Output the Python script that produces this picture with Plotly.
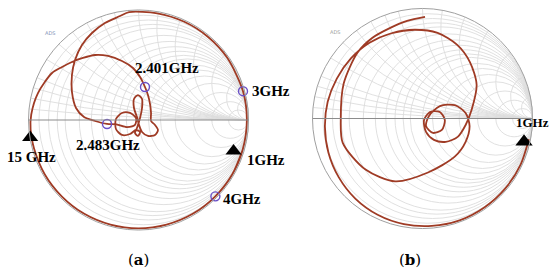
import numpy as np
import plotly.graph_objects as go

# ---------------- data: reflection coefficient (S11) ----------------
# Chart (a): S11 real / imaginary parts, traced from 1 GHz to 15 GHz
a_s11_re = [0.947, 0.853, 0.696, 0.493, 0.255, 0.0, -0.255, -0.493, -0.696, -0.853, -0.951, -0.981,
            -0.975, -0.914, -0.786, -0.695, -0.605, -0.505, -0.395, -0.277, -0.15, -0.05, 0.014, 0.059,
            0.086, 0.105, 0.114, 0.114, 0.15, 0.177, 0.15, 0.086, 0.032, 0.005,
            -0.014, -0.041, -0.041, -0.005, 0.032, 0.032, 0.014,
            -0.014, -0.032, -0.005, 0.014, -0.023,
            -0.077, -0.15, -0.205, -0.205, -0.15, -0.077, -0.023, -0.032, -0.105, -0.2, -0.286,
            -0.395, -0.495, -0.568, -0.605, -0.605, -0.577, -0.514, -0.423, -0.305, -0.168,
            -0.086, 0.171, 0.416, 0.633, 0.807, 0.950, 0.985, 0.947, 0.853, 0.699,
            0.493, 0.255, 0.0, -0.255, -0.493, -0.696, -0.853, -0.951, -0.980]
a_s11_im = [-0.271, -0.493, -0.696, -0.853, -0.951, -0.985, -0.951, -0.853, -0.696, -0.493, -0.255, -0.086,
            0.05, 0.245, 0.427, 0.482, 0.527, 0.564, 0.591, 0.582, 0.536, 0.473, 0.391, 0.30,
            0.227, 0.145, 0.064, -0.009, -0.045, -0.091, -0.136, -0.145, -0.109, -0.045,
            0.027, 0.109, 0.191, 0.227, 0.191, 0.109, 0.018,
            -0.073, -0.118, -0.145, -0.109, -0.091,
            -0.127, -0.136, -0.082, 0.009, 0.064, 0.064, 0.018, -0.045, -0.064, -0.04, -0.036,
            -0.009, 0.027, 0.109, 0.255, 0.409, 0.545, 0.682, 0.791, 0.882, 0.945,
            0.981, 0.970, 0.893, 0.755, 0.565, 0.262, 0.0, -0.271, -0.493, -0.694,
            -0.853, -0.951, -0.985, -0.951, -0.853, -0.696, -0.493, -0.255, -0.103]

# markers on chart (a)
a_circ_labels = ["2.401GHz", "2.483GHz", "3GHz", "4GHz"]
a_circ_re = [0.059, -0.286, 0.950, 0.699]
a_circ_im = [0.30, -0.036, 0.262, -0.694]
a_tri_labels = ["1GHz", "15 GHz"]
a_tri_re = [0.864, -0.985]
a_tri_im = [-0.282, -0.16]

# Chart (b): S11 real / imaginary parts, traced from 1 GHz upward
b_s11_re = [0.967, 0.893, 0.755, 0.565, 0.337, 0.085, -0.169, -0.408, -0.611, -0.762, -0.855, -0.887,
            -0.862, -0.779, -0.651, -0.482, -0.282, -0.071, 0.137, 0.313, 0.431, 0.492, 0.446,
            0.392, 0.32, 0.212, 0.104, 0.032, 0.014, 0.068, 0.158, 0.203, 0.176, 0.095, 0.032, 0.059,
            0.158, 0.293, 0.392, 0.428, 0.392, 0.293, 0.05, -0.248, -0.518, -0.725, -0.743, -0.716,
            -0.59, -0.455, -0.293, -0.14, 0.023]
b_s11_im = [-0.188, -0.416, -0.633, -0.807, -0.926, -0.976, -0.960, -0.875, -0.728, -0.533, -0.311, -0.078,
            0.152, 0.363, 0.546, 0.688, 0.775, 0.807, 0.778, 0.671, 0.513, 0.307, 0.077,
            -0.059, -0.167, -0.212, -0.194, -0.122, -0.014, 0.059, 0.059, -0.014, -0.104, -0.131, -0.068, 0.023,
            0.113, 0.122, 0.05, -0.068, -0.212, -0.347, -0.491, -0.572, -0.464, -0.221, 0.005, 0.32,
            0.6, 0.734, 0.824, 0.887, 0.923]
b_tri_labels = ["1GHz"]
b_tri_re = [0.923]
b_tri_im = [-0.212]

# Smith grid values (normalised resistance / reactance)
grid_r = [0.05, 0.1, 0.15, 0.2, 0.3, 0.4, 0.5, 0.6, 0.7, 0.8, 1, 1.2, 1.5, 2, 3, 5, 10]
grid_x = [0.05, 0.1, 0.15, 0.2, 0.3, 0.4, 0.5, 0.6, 0.7, 0.8, 1, 1.2, 1.5, 2, 3, 5, 10]


def to_z(re, im):
    g = np.array(re) + 1j * np.array(im)
    z = (1 + g) / (1 - g)
    return z.real, z.imag


CURVE = "#9f3b25"
MARK = "#6a50c8"

fig = go.Figure()

for sub, re, im in [("smith", a_s11_re, a_s11_im), ("smith2", b_s11_re, b_s11_im)]:
    zr, zi = to_z(re, im)
    fig.add_trace(go.Scattersmith(real=zr, imag=zi, subplot=sub, mode="lines",
                                  line=dict(color=CURVE, width=1.8, shape="spline", smoothing=0.8),
                                  showlegend=False, hoverinfo="skip"))

zr, zi = to_z(a_circ_re, a_circ_im)
fig.add_trace(go.Scattersmith(real=zr, imag=zi, subplot="smith", mode="markers",
                              text=a_circ_labels,
                              marker=dict(symbol="circle-open", size=9, color=MARK, line=dict(width=1.4)),
                              showlegend=False))
zr, zi = to_z(a_tri_re, a_tri_im)
fig.add_trace(go.Scattersmith(real=zr, imag=zi, subplot="smith", mode="markers", text=a_tri_labels,
                              marker=dict(symbol="triangle-up", size=14, color="black"),
                              showlegend=False))
zr, zi = to_z(b_tri_re, b_tri_im)
fig.add_trace(go.Scattersmith(real=zr, imag=zi, subplot="smith2", mode="markers", text=b_tri_labels,
                              marker=dict(symbol="triangle-up", size=15, color="black"),
                              showlegend=False))

axis_r = dict(tickvals=grid_r, showgrid=True, gridcolor="#dcdcdc", gridwidth=0.9,
              showline=True, linecolor="#8c8c8c", linewidth=1, showticklabels=False, ticks="")
axis_x = dict(tickvals=grid_x, showgrid=True, gridcolor="#dcdcdc", gridwidth=0.9,
              showline=True, linecolor="#a0a0a0", linewidth=1, showticklabels=False, ticks="")

W, H = 550, 274
fig.update_layout(
    width=W, height=H, margin=dict(l=0, r=0, t=0, b=0),
    paper_bgcolor="white", plot_bgcolor="white",
    smith=dict(domain=dict(x=[28.5 / W, 248.5 / W], y=[1 - 230 / H, 1 - 10 / H]),
               bgcolor="white", realaxis=axis_r, imaginaryaxis=axis_x),
    smith2=dict(domain=dict(x=[312.5 / W, 532.5 / W], y=[1 - 228.5 / H, 1 - 8.5 / H]),
                bgcolor="white", realaxis=axis_r, imaginaryaxis=axis_x),
)

lab = dict(family="Liberation Serif", size=15, color="black")


def ann(text, px, py, anchor="center", font=lab):
    fig.add_annotation(text=text, x=px / W, y=1 - py / H, xref="paper", yref="paper",
                       xanchor=anchor, yanchor="middle", showarrow=False, font=font)


ann("<b>2.401GHz</b>", 167, 68)
ann("<b>3GHz</b>", 250, 91, "left")
ann("<b>2.483GHz</b>", 107.5, 145)
ann("<b>15 GHz</b>", 31, 157)
ann("<b>1GHz</b>", 245, 160, "left")
ann("<b>4GHz</b>", 221, 199, "left")
ann("<b>1GHz</b>", 532, 122, "center", dict(family="Liberation Serif", size=13, color="black"))
ann("ADS", 50, 33, font=dict(family="DejaVu Sans", size=5, color="#8090b8"))
ann("ADS", 335, 32, font=dict(family="DejaVu Sans", size=5, color="#a0a0a0"))
cap = dict(family="DejaVu Serif", size=15, color="black")
ann("(<b>a</b>)", 138.5, 260, font=cap)
ann("(<b>b</b>)", 410, 260, font=cap)

fig.write_html("out.html", config={"displayModeBar": False, "staticPlot": True},
               post_script="document.body.style.margin='0';document.body.style.overflow='hidden';")
